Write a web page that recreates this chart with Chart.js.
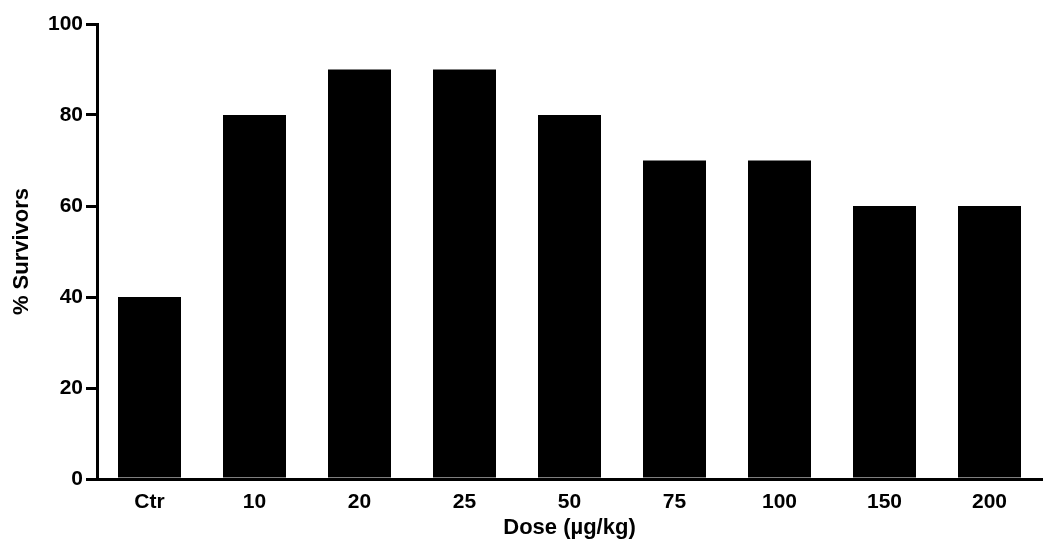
<!DOCTYPE html>
<html>
<head>
<meta charset="utf-8">
<script src="https://cdn.jsdelivr.net/npm/chart.js@4.4.0/dist/chart.umd.min.js"></script>
<style>
  html, body { margin: 0; padding: 0; background: #fff; }
  #wrap { width: 1050px; height: 549px; }
</style>
</head>
<body>
<div id="wrap"><canvas id="survChart" width="1050" height="549"></canvas></div>
<script>
const doses = ['Ctr', '10', '20', '25', '50', '75', '100', '150', '200']
const survivors = [40, 80, 90, 90, 80, 70, 70, 60, 60]
const yTicks = [0, 20, 40, 60, 80, 100]

const ink = '#000'
const labelFont = { family: 'Liberation Sans, Arial, sans-serif', size: 21, weight: 'bold', lineHeight: 1 }

const ctx = document.getElementById('survChart').getContext('2d')
const survChart = new Chart(ctx, {
    type: 'bar',
    data: {
        labels: doses,
        datasets: [{
            data: survivors,
            backgroundColor: ink,
            borderWidth: 0,
            barPercentage: 0.6,
            categoryPercentage: 1
        }]
    },
    options: {
        responsive: false,
        animation: false,
        layout: { padding: { top: 24, right: 8, left: 9, bottom: 10 } },
        plugins: {
            legend: { display: false },
            tooltip: { enabled: false }
        },
        scales: {
            x: {
                grid: { display: false },
                border: { display: true, color: ink, width: 3 },
                ticks: { color: ink, font: labelFont, padding: 5 },
                title: {
                    display: true,
                    text: 'Dose (\u00b5g/kg)',
                    color: ink,
                    font: { family: labelFont.family, size: 22, weight: 'bold', lineHeight: 1 },
                    padding: { top: -1, bottom: 0 }
                }
            },
            y: {
                min: 0,
                max: 100,
                afterBuildTicks: axis => { axis.ticks = yTicks.map(v => ({ value: v })) },
                afterFit: axis => { axis.width = 88 },
                grid: {
                    drawOnChartArea: false,
                    drawTicks: true,
                    tickLength: 11,
                    color: ink,
                    lineWidth: 3
                },
                border: { display: true, color: ink, width: 3 },
                ticks: { color: ink, font: labelFont, padding: 3 },
                title: {
                    display: true,
                    text: '% Survivors',
                    color: ink,
                    font: { family: labelFont.family, size: 22, weight: 'bold' },
                    padding: { top: 0, bottom: 6 }
                }
            }
        }
    }
})
</script>
</body>
</html>
